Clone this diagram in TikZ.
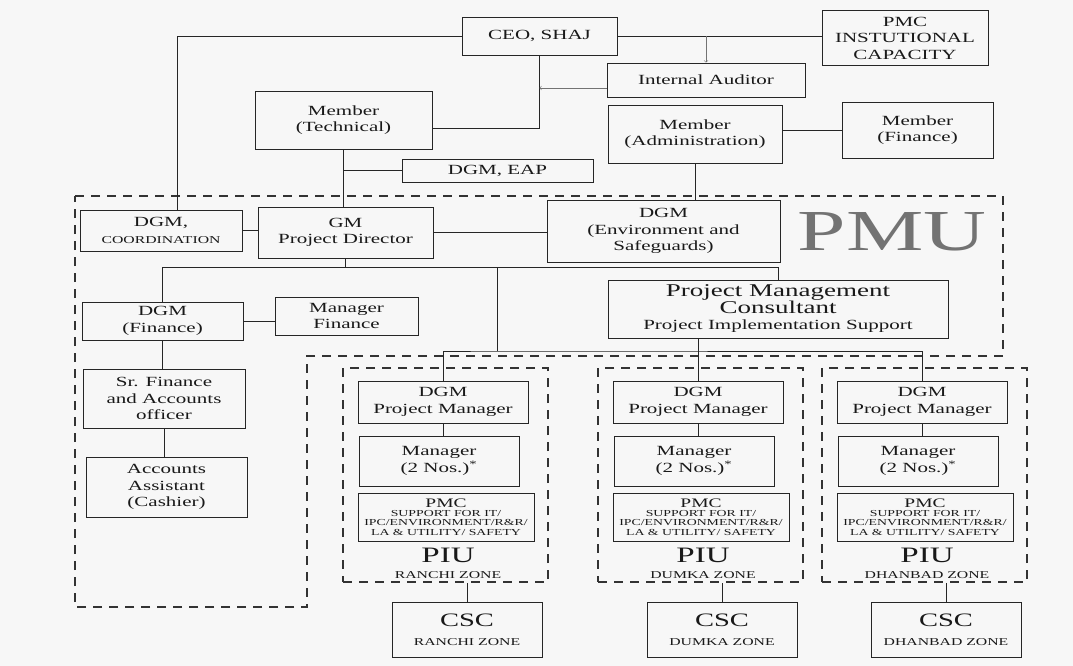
\documentclass[tikz,border=0pt]{standalone}
\usepackage{fontspec}
\setmainfont{Liberation Serif}[FakeStretch=1.5]
\usetikzlibrary{calc}

\newcommand{\boxfont}{\fontsize{14}{16.5}\selectfont}
\newcommand{\capfont}{\fontsize{10.5}{12}\selectfont}
\newcommand{\supfont}{\fontsize{9.2}{9.2}\selectfont}
\newcommand{\pmcfont}{\fontsize{13}{14}\selectfont}
\newcommand{\ttlfont}{\fontsize{18}{19}\selectfont}
\newcommand{\piufont}{\fontsize{22}{23}\selectfont}
\newcommand{\cscfont}{\fontsize{19}{20}\selectfont}
\newcommand{\pmufont}{\fontsize{58}{60}\selectfont}

\begin{document}
\begin{tikzpicture}[x=1pt,y=-1pt]
        \tikzstyle{every node} = [rectangle, align=center, font=\boxfont, text=black!90, inner sep=1pt]
        \tikzstyle{box} = [draw=black!85, line width=0.9pt]
        \tikzstyle{link} = [draw=black!85, line width=0.9pt]
        \tikzstyle{note} = [->, draw=black!55, line width=0.6pt]
        \tikzstyle{pmuline} = [draw=black!80, line width=2.6pt, dash pattern=on 9pt off 7pt]
        \tikzstyle{piubox} = [draw=black!80, line width=2.6pt, dash pattern=on 9pt off 7pt]
        \fill[black!3] (0,0) rectangle (1073,666);
        \useasboundingbox (0,0) rectangle (1073,666);
        % top level
        \node[box, minimum width=155pt, minimum height=38pt] (ceo) at (539.5,36) {CEO, SHAJ};
        \node[box, minimum width=166pt, minimum height=55pt] (pmcic) at (905,38) {PMC\\INSTUTIONAL\\CAPACITY};
        \node[box, minimum width=198pt, minimum height=34pt] (audit) at (706,80) {Internal Auditor};
        \node[box, minimum width=177pt, minimum height=58pt] (mtech) at (343.5,120) {Member\\(Technical)};
        \node[box, minimum width=174pt, minimum height=58pt] (madmin) at (695,134) {Member\\(Administration)};
        \node[box, minimum width=151pt, minimum height=56pt] (mfin) at (917.5,130) {Member\\(Finance)};
        \node[box, minimum width=191pt, minimum height=23pt] (eap) at (497.5,170.5) {DGM, EAP};
        % PMU
        \node[box, minimum width=162pt, minimum height=41pt] (coord) at (161,230.5) {DGM,\\{\capfont COORDINATION}};
        \node[box, minimum width=175pt, minimum height=51pt] (gm) at (345.5,232.5) {GM\\Project Director};
        \node[box, minimum width=233pt, minimum height=62pt] (denv) at (663.5,231) {DGM\\(Environment and\\Safeguards)};
        \node[text=black!55, font=\pmufont] (pmu) at (892,232) {PMU};
        \node[box, minimum width=340pt, minimum height=58pt] (pmcc) at (778,309) {{\ttlfont Project Management}\\{\ttlfont Consultant}\\Project Implementation Support};
        \node[box, minimum width=161pt, minimum height=38pt] (dfin) at (162.5,321) {DGM\\(Finance)};
        \node[box, minimum width=143pt, minimum height=38pt] (mgrfin) at (346.5,316) {Manager\\Finance};
        \node[box, minimum width=162pt, minimum height=59pt] (srfin) at (164,398.5) {Sr. Finance\\and Accounts\\officer};
        \node[box, minimum width=161pt, minimum height=60pt] (acct) at (166.5,487) {Accounts\\Assistant\\(Cashier)};
        \draw[pmuline] (75,196) -- (1003,196) -- (1003,356) -- (307,356) -- (307,607) -- (75,607) -- cycle;
        % PIU zones
        \foreach \z/\L/\zone in {r/343/RANCHI ZONE, d/598/DUMKA ZONE, b/822/DHANBAD ZONE} {
            \node[piubox, minimum width=205pt, minimum height=214pt] (piu\z) at (\L+102.5,475) {};
            \node[box, minimum width=170pt, minimum height=42pt] (dpm\z) at (\L+100,402) {DGM\\Project Manager};
            \node[box, minimum width=160pt, minimum height=50pt] (mgr\z) at (\L+96,461) {Manager\\(2 Nos.)\textsuperscript{*}};
            \node[box, font=\supfont, minimum width=176pt, minimum height=48pt] (pmcs\z) at (\L+103,517) {{\pmcfont PMC}\\SUPPORT FOR IT/\\IPC/ENVIRONMENT/R\&R/\\LA \& UTILITY/ SAFETY};
            \node[font=\piufont] (piul\z) at (\L+105,555) {PIU};
            \node[font=\capfont] (zone\z) at (\L+105,575) {\zone};
            \node[box, minimum width=150pt, minimum height=55pt] (csc\z) at (\L+124,630) {{\cscfont CSC}\\[2pt]{\capfont \zone}};
            \draw[link] (dpm\z.south) -- (dpm\z.south |- mgr\z.north);
            \draw[link] (csc\z.north) -- (csc\z.north |- piu\z.south);
        }
        % connectors
        \draw[link] (ceo.east) -- (ceo.east -| pmcic.west);
        \draw[note] (audit.north |- ceo.east) -- (audit.north);
        \draw[link] (ceo.south) |- ([yshift=-8pt]mtech.east);
        \draw[note] ([yshift=-8pt]audit.west) -- ([yshift=-8pt]audit.west -| ceo.south);
        \draw[link] (ceo.west) -| ([xshift=16pt]coord.north);
        \draw[link] (madmin.east |- mfin.west) -- (mfin.west);
        \draw[link] (madmin.south) -- (madmin.south |- denv.north);
        \draw[link] (mtech.south) -- (mtech.south |- gm.north);
        \draw[link] (eap.west) -- (eap.west -| mtech.south);
        \draw[link] (coord.east) -- (coord.east -| gm.west);
        \draw[link] (gm.east) -- (gm.east -| denv.west);
        \coordinate (gmbus) at ($(gm.south)+(0,9)$);
        \draw[link] (gm.south) -- (gmbus);
        \draw[link] (dfin.north) |- (gmbus) -| (pmcc.north);
        \draw[link] (dfin.east) -- (dfin.east -| mgrfin.west);
        \foreach \from/\to in {dfin/srfin, srfin/acct}
            \draw[link] (\from.south) -- (\from.south |- \to.north);
        \coordinate (piubus) at (497,351);
        \draw[link] (piubus |- gmbus) -- (piubus);
        \draw[link] (dpmr.north) |- (piubus) -- (piubus -| dpmb.north) -- (dpmb.north);
        \draw[link] (pmcc.south -| dpmd.north) -- (dpmd.north);
\end{tikzpicture}
\end{document}
